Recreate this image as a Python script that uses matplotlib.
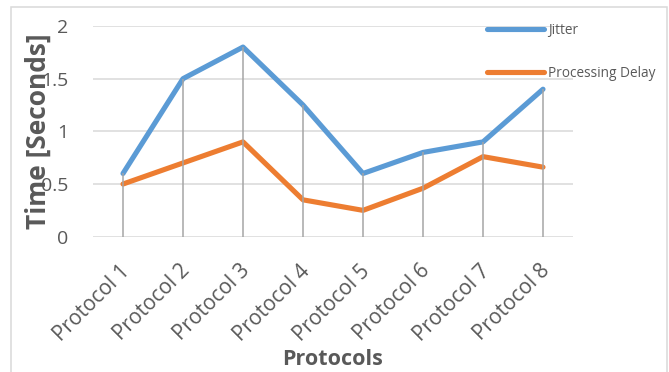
import matplotlib
matplotlib.use("Agg")
import matplotlib.pyplot as plt
import matplotlib.transforms as mtransforms
from matplotlib.patches import Rectangle

# Data
protocols = ["Protocol 1", "Protocol 2", "Protocol 3", "Protocol 4",
             "Protocol 5", "Protocol 6", "Protocol 7", "Protocol 8"]
jitter = [0.6, 1.5, 1.8, 1.25, 0.6, 0.8, 0.9, 1.4]
processing_delay = [0.5, 0.7, 0.9, 0.35, 0.25, 0.46, 0.76, 0.66]
y_ticks = [0, 0.5, 1, 1.5, 2]
y_tick_labels = ["0", "0.5", "1", "1.5", "2"]

TEXT = "#595959"
GRID = "#D9D9D9"
BLUE = "#5B9BD5"
ORANGE = "#ED7D31"
DROP = "#A5A5A5"

plt.rcParams["font.family"] = ["Open Sans", "DejaVu Sans"]

W, H = 669, 372
fig = plt.figure(figsize=(W / 100, H / 100), dpi=100)
ax = fig.add_axes([93 / W, 1 - 236.7 / H, (573 - 93) / W, (236.7 - 26) / H])

x = list(range(len(protocols)))

ax.plot(x, jitter, color=BLUE, lw=3.7, solid_capstyle="round",
        solid_joinstyle="round", label="Jitter", zorder=3)
ax.plot(x, processing_delay, color=ORANGE, lw=3.7, solid_capstyle="round",
        solid_joinstyle="round", label="Processing Delay", zorder=3)

# drop lines from the highest series down to the axis
tops = [max(a, b) for a, b in zip(jitter, processing_delay)]
ax.vlines(x, 0, tops, color=DROP, lw=1.1, zorder=4)

ax.set_xlim(-0.5, len(protocols) - 0.5)
ax.set_ylim(0, 2)
ax.set_yticks(y_ticks)
ax.set_yticklabels(y_tick_labels)
ax.yaxis.grid(True, color=GRID, lw=1.1)
ax.set_axisbelow(True)
for s in ax.spines.values():
    s.set_visible(False)

ax.tick_params(axis="y", length=0, pad=17.5, labelsize=14, labelcolor=TEXT)
ax.tick_params(axis="x", length=0, pad=15, labelsize=15, labelcolor=TEXT)
ax.set_xticks(x)
ax.set_xticklabels(protocols, rotation=45, ha="right", rotation_mode="anchor")
shift = mtransforms.ScaledTranslation(-4 / 100, -3 / 100, fig.dpi_scale_trans)
for lbl in ax.get_xticklabels():
    lbl.set_transform(lbl.get_transform() + shift)

ax.set_xlabel("Protocols", fontsize=15.5, fontweight="bold", color=TEXT,
              labelpad=3)
ax.set_ylabel("Time [Seconds]", fontsize=19, fontweight="bold", color=TEXT)
ax.yaxis.set_label_coords(52 / W, 1 - 131 / H, transform=fig.transFigure)

leg = fig.legend(loc="upper left", bbox_to_anchor=(487 / W, 1 - 23 / H),
                 frameon=False, fontsize=9.8, handlelength=4.2,
                 handletextpad=0.3, labelspacing=2.05, borderpad=0,
                 borderaxespad=0)
for t in leg.get_texts():
    t.set_color(TEXT)

# chart area border
fig.patches.append(Rectangle((10.5 / W, -0.01), (667 - 10.5) / W, 1 - 7 / H + 0.01,
                             transform=fig.transFigure, fill=False,
                             edgecolor=GRID, lw=1.1))

fig.savefig("out.png", dpi=100)
